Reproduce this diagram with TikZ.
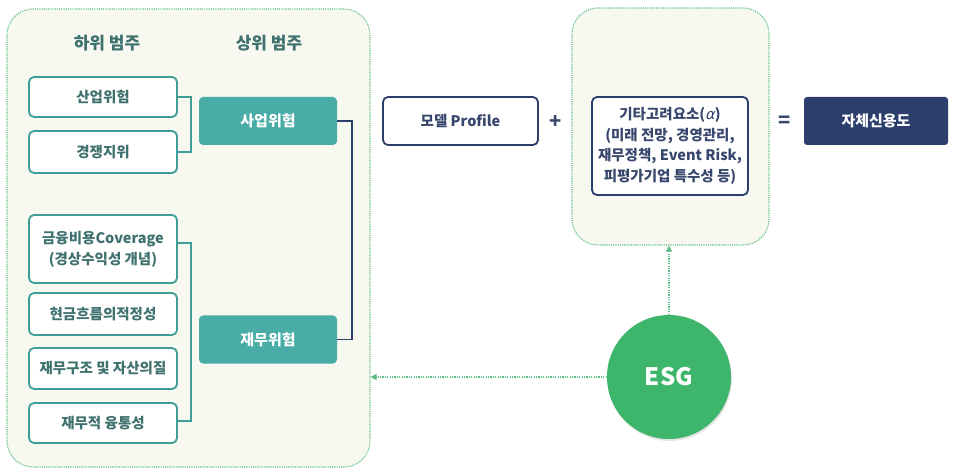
\documentclass[tikz,border=0pt]{standalone}
\usepackage{fontspec}
\setmainfont{Noto Sans CJK KR}
\newfontfamily\grk{DejaVu Sans}[FakeSlant=0.25]
\usetikzlibrary{arrows.meta,shadows,calc}
\definecolor{panelfill}{HTML}{F7F8F0}
\definecolor{dotgreen}{HTML}{5CBD86}
\definecolor{tealborder}{HTML}{3F9E97}
\definecolor{tealfill}{HTML}{4AACA6}
\definecolor{tealtext}{HTML}{3F716E}
\definecolor{navy}{HTML}{2C3F6C}
\definecolor{navytext}{HTML}{37466C}
\definecolor{esggreen}{HTML}{3DB56A}
\tikzset{
  panel/.style={draw=dotgreen, fill=panelfill, line width=1.1pt, dash pattern=on 1.1pt off 1.1pt, rounded corners=26pt, inner sep=0pt},
  subbox/.style={draw=tealborder, fill=white, line width=1.8pt, rounded corners=5pt, minimum width=148pt, inner sep=0pt, align=center, text=tealtext, font=\fontsize{14.5}{17}\selectfont\bfseries},
  topbox/.style={fill=tealfill, rounded corners=4pt, minimum width=138pt, minimum height=48pt, inner sep=0pt, text=white, font=\fontsize{15}{18}\selectfont\bfseries},
  heading/.style={text=tealtext, font=\fontsize{17}{20}\selectfont\bfseries, inner sep=0pt},
  navybox/.style={draw=navy, fill=white, line width=1.8pt, rounded corners=5pt, inner sep=0pt, align=center, text=navytext, font=\fontsize{14.5}{20.7}\selectfont\bfseries},
  bracket/.style={draw=tealborder, line width=1.4pt},
  navyline/.style={draw=navy, line width=1.3pt},
  esgarrow/.style={draw=dotgreen, line width=1.3pt, dash pattern=on 1.2pt off 1.2pt, -{Triangle[length=6pt,width=6pt]}},
  sym/.style={text=navytext, font=\fontsize{20}{20}\selectfont\bfseries, inner sep=0pt}
}
\begin{document}
\begin{tikzpicture}[x=1pt,y=-1pt]
\useasboundingbox (0,0) rectangle (956,470);
% panels
\node[panel, minimum width=363pt, minimum height=458pt] (lp) at (188.5,238) {};
\node[panel, minimum width=197pt, minimum height=237pt] (rp) at (670.5,126.5) {};
% headings
\node[heading] (h1) at (107,43) {하위 범주};
\node[heading] (h2) at (269,43) {상위 범주};
% sub boxes
\node[subbox, minimum height=40pt] (s1) at (103,97) {산업위험};
\node[subbox, minimum height=42pt] (s2) at (103,152) {경쟁지위};
\node[subbox, minimum height=68pt, font=\fontsize{14.5}{21}\selectfont\bfseries] (f1) at (103,249) {금융비용Coverage\\(경상수익성 개념)};
\node[subbox, minimum height=42pt] (f2) at (103,314) {현금흐름의적정성};
\node[subbox, minimum height=41pt] (f3) at (103,368.5) {재무구조 및 자산의질};
\node[subbox, minimum height=40pt] (f4) at (103,423) {재무적 융통성};
% top boxes
\node[topbox] (t1) at (268,121) {사업위험};
\node[topbox] (t2) at (268,339.5) {재무위험};
% brackets
\coordinate (b1) at (191,97);
\coordinate (b2) at (191,152);
\draw[bracket] (s1.east) -- (b1) -- (b2) -- (s2.east);
\coordinate (b3) at (191,243);
\coordinate (b4) at (191,421);
\draw[bracket] (s1.east |- b3) -- (b3) -- (b4) -- (f4.east |- b4);
% navy connector
\coordinate (n1) at (352,121);
\coordinate (n2) at (352,339.5);
\draw[navyline] (t1.east) -- (n1) -- (n2) -- (t2.east);
% middle
\node[navybox, minimum width=155pt, minimum height=48pt] (m) at (460.5,121) {모델 Profile};
\node[sym] (plus) at (556,122) {+};
\node[navybox, minimum width=156pt, minimum height=98pt] (o) at (670,146) {기타고려요소({\grk\mdseries α})\\(미래 전망, 경영관리,\\재무정책, Event Risk,\\피평가기업 특수성 등)};
\node[sym] (eq) at (785,122) {=};
\node[fill=navy, rounded corners=3pt, minimum width=144pt, minimum height=48pt, inner sep=0pt, text=white, font=\fontsize{15}{18}\selectfont\bfseries] (r) at (876,121) {자체신용도};
% ESG
\node[circle, fill=esggreen, minimum size=124pt, inner sep=0pt, text=white, font=\fontsize{24}{26}\selectfont\bfseries, drop shadow={opacity=0.2, shadow xshift=1pt, shadow yshift=-2pt}] (esg) at (669,377) {ESG};
\draw[esgarrow] (esg.north) -- (esg.north |- rp.south);
\draw[esgarrow] (esg.west) -- (esg.west -| lp.east);
\end{tikzpicture}
\end{document}
